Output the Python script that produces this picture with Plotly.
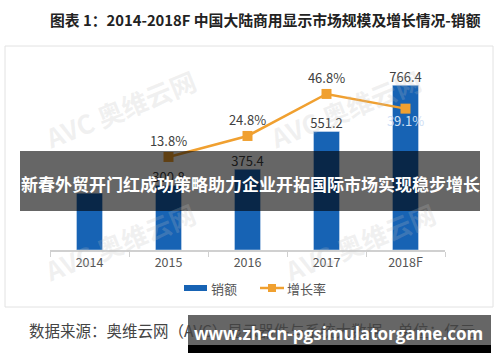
import plotly.graph_objects as go

years = ["2014", "2015", "2016", "2017", "2018F"]
sales = [264.3, 300.8, 375.4, 551.2, 766.4]
sales_labels = ["", "300.8", "375.4", "551.2", "766.4"]
growth = [None, 13.8, 24.8, 46.8, 39.1]
growth_labels = ["", "13.8%", "24.8%", "46.8%", "39.1%"]
growth_pos = ["top center", "top center", "top center", "top center", "bottom center"]
growth_txtcol = ["#404040", "#404040", "#404040", "#404040", "#cfe0f5"]

W, H = 500, 362
def px(x): return x / W
def py(y): return 1 - y / H

BLUE = "#1763B4"
ORANGE = "#F0A030"
FONT = "Noto Sans CJK SC"

fig = go.Figure()
fig.add_trace(go.Bar(
    x=years, y=sales, name="销额", marker_color=BLUE, width=0.33,
    showlegend=False, hoverinfo="x+y"))
fig.add_trace(go.Scatter(
    x=years, y=sales, mode="text", text=sales_labels, textposition="top center",
    textfont=dict(color="#404040", size=13, family=FONT), cliponaxis=False,
    showlegend=False, hoverinfo="skip"))
fig.add_trace(go.Scatter(
    x=years, y=growth, name="增长率", yaxis="y2", mode="lines+markers+text",
    line=dict(color=ORANGE, width=2.5),
    marker=dict(symbol="square", size=10, color=ORANGE),
    text=growth_labels, textposition=growth_pos,
    textfont=dict(color=growth_txtcol, size=13, family=FONT),
    cliponaxis=False, showlegend=False))

fig.update_layout(
    width=W, height=H, margin=dict(l=0, r=0, t=0, b=0),
    paper_bgcolor="white", plot_bgcolor="white",
    font=dict(family=FONT, color="#404040"),
    xaxis=dict(domain=[px(50), px(445)], type="category", tickson="boundaries",
               ticks="outside", ticklen=5, tickcolor="#d0d0d0",
               showline=True, linecolor="#d0d0d0", linewidth=1.5,
               showgrid=False, tickfont=dict(size=12.5, color="#555555")),
    yaxis=dict(domain=[py(250), py(50)], range=[0, 930], visible=False,
               showgrid=False, zeroline=False),
    yaxis2=dict(overlaying="y", range=[-34.9, 69.8], visible=False,
                showgrid=False, zeroline=False),
)

shapes = [
    dict(type="rect", xref="paper", yref="paper", x0=px(5), x1=px(493), y0=py(307), y1=py(46),
         line=dict(color="#e2e2e2", width=1), layer="below"),
    dict(type="rect", xref="paper", yref="paper", x0=px(184), x1=px(207), y0=py(291), y1=py(285),
         fillcolor=BLUE, line=dict(width=0)),
    dict(type="line", xref="paper", yref="paper", x0=px(260), x1=px(284), y0=py(288), y1=py(288),
         line=dict(color=ORANGE, width=2.5)),
    dict(type="rect", xref="paper", yref="paper", x0=px(268), x1=px(276), y0=py(292), y1=py(284),
         fillcolor=ORANGE, line=dict(width=0)),
    dict(type="rect", xref="paper", yref="paper", x0=px(20), x1=px(480), y0=py(211), y1=py(151),
         fillcolor="rgba(0,0,0,0.6)", line=dict(width=0), layer="above"),
    dict(type="rect", xref="paper", yref="paper", x0=px(188), x1=px(491), y0=py(345), y1=py(315),
         fillcolor="rgba(0,0,0,0.6)", line=dict(width=0), layer="above"),
    dict(type="rect", xref="paper", yref="paper", x0=px(188), x1=px(491), y0=py(353), y1=py(345),
         fillcolor="#000000", line=dict(width=0), layer="above"),
]
fig.update_layout(shapes=shapes)

ann = [
    dict(text="<b>图表 1：2014-2018F 中国大陆商用显示市场规模及增长情况-销额</b>",
         x=px(48), y=py(20), xanchor="left", yanchor="middle",
         font=dict(size=14.8, color="#222222", family=FONT)),
    dict(text="销额", x=px(209), y=py(288), xanchor="left", yanchor="middle",
         font=dict(size=13, color="#555555", family=FONT)),
    dict(text="增长率", x=px(285), y=py(288), xanchor="left", yanchor="middle",
         font=dict(size=13, color="#555555", family=FONT)),
    dict(text="数据来源：奥维云网（AVC）显示器件与系统大数据，单位：亿元",
         x=px(27), y=py(330), xanchor="left", yanchor="middle",
         font=dict(size=15.5, color="#444444", family=FONT)),
    dict(text="<b>新春外贸开门红成功策略助力企业开拓国际市场实现稳步增长</b>",
         x=px(250), y=py(183), xanchor="center", yanchor="middle",
         font=dict(size=17, color="white", family=FONT)),
    dict(text="<b>www.zh-cn-pgsimulatorgame.com</b>",
         x=px(338), y=py(333), xanchor="center", yanchor="middle",
         font=dict(size=17, color="white", family="Open Sans")),
]
for (wx, wy) in [(120, 108), (345, 108), (120, 242), (360, 242)]:
    ann.append(dict(text="<b>AVC 奥维云网</b>", x=px(wx), y=py(wy), xanchor="center", yanchor="middle",
                    textangle=-22, font=dict(size=26, color="rgba(190,190,190,0.22)", family=FONT)))
for a in ann:
    a.update(xref="paper", yref="paper", showarrow=False)
fig.update_layout(annotations=ann)

fig.write_html("out.html", config={"displayModeBar": False},
               post_script="document.body.style.margin='0px';document.body.style.overflow='hidden';")
